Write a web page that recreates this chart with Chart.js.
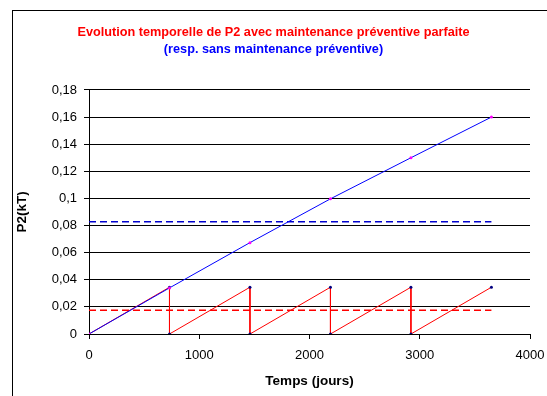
<!DOCTYPE html>
<html>
<head>
<meta charset="utf-8">
<script src="https://cdn.jsdelivr.net/npm/chart.js@4"></script>
<style>
    html, body { margin: 0; padding: 0; background: #fff; overflow: hidden; }
    #wrap { position: relative; width: 547px; height: 396px; }
    #frame { position: absolute; left: 12px; top: 10px; width: 600px; height: 500px; border: 1px solid #000; }
    canvas { position: absolute; left: 0; top: 0; }
</style>
</head>
<body>
<div id="wrap">
    <div id="frame"></div>
    <canvas id="p2Chart" width="547" height="396"></canvas>
</div>
<script>
// P2 sans maintenance préventive (courbe bleue)
const daysNoMaint = [0, 730, 1460, 2190, 2920, 3650];
const p2NoMaint = [0, 0.034, 0.0674, 0.0997, 0.130, 0.160];

// P2 avec maintenance préventive parfaite (dents de scie rouges)
const daysMaint = [0, 730, 730, 1460, 1460, 2190, 2190, 2920, 2920, 3650];
const p2Maint = [0, 0.0345, 0, 0.0345, 0, 0.0345, 0, 0.0345, 0, 0.0345];

// valeurs moyennes (pointillés)
const meanDays = [0, 3650];
const meanNoMaint = [0.0828, 0.0828];
const meanMaint = [0.0176, 0.0176];

const yTickLabels = ['0', '0,02', '0,04', '0,06', '0,08', '0,1', '0,12', '0,14', '0,16', '0,18'];
const xTickLabels = ['0', '1000', '2000', '3000', '4000'];

function toPoints(xs, ys) {
    return xs.map((x, i) => ({ x: x, y: ys[i] }));
}

const font = { family: "'Liberation Sans', Arial, sans-serif", size: 13 };
const axisTitleFont = { family: "'Liberation Sans', Arial, sans-serif", size: 13.5, weight: 'bold' };
const titleFont = { family: "'Liberation Sans', Arial, sans-serif", size: 12.7, weight: 'bold' };

new Chart(document.getElementById('p2Chart').getContext('2d'), {
    type: 'line',
    data: {
        datasets: [{
            label: 'Sans maintenance',
            data: toPoints(daysNoMaint, p2NoMaint),
            borderColor: '#0000FF',
            borderWidth: 1,
            pointRadius: 1.5,
            pointBackgroundColor: '#FF00FF',
            pointBorderWidth: 0,
            tension: 0
        }, {
            label: 'Avec maintenance',
            data: toPoints(daysMaint, p2Maint),
            borderColor: '#FF0000',
            borderWidth: 1,
            pointRadius: 1.5,
            pointBackgroundColor: '#000080',
            pointBorderWidth: 0,
            tension: 0
        }, {
            label: 'Moyenne sans maintenance',
            data: toPoints(meanDays, meanNoMaint),
            borderColor: '#0000CC',
            borderWidth: 1.5,
            borderDash: [7, 4],
            pointRadius: 0
        }, {
            label: 'Moyenne avec maintenance',
            data: toPoints(meanDays, meanMaint),
            borderColor: '#FF0000',
            borderWidth: 1.5,
            borderDash: [7, 4],
            pointRadius: 0
        }]
    },
    options: {
        responsive: false,
        animation: false,
        layout: { padding: { top: 0, left: 0, right: 0, bottom: 0 } },
        plugins: {
            legend: { display: false },
            tooltip: { enabled: false },
            title: {
                display: true,
                text: 'Evolution temporelle de P2 avec maintenance préventive parfaite',
                color: '#FF0000',
                font: titleFont,
                padding: { top: 24.4, bottom: 0 }
            },
            subtitle: {
                display: true,
                text: '(resp. sans maintenance préventive)',
                color: '#0000FF',
                font: titleFont,
                padding: { top: 2.7, bottom: 32.4 }
            }
        },
        scales: {
            x: {
                type: 'linear',
                min: 0,
                max: 4000,
                afterFit: scale => {
                    scale.height = 62;
                    scale.paddingRight = 17;
                },
                ticks: {
                    stepSize: 1000,
                    color: '#000',
                    font: font,
                    padding: 8.7,
                    maxRotation: 0,
                    callback: (v, i) => xTickLabels[i]
                },
                grid: { drawOnChartArea: false, drawTicks: true, tickLength: 5, color: '#000' },
                border: { color: '#000' },
                title: {
                    display: true,
                    text: 'Temps (jours)',
                    color: '#000',
                    font: axisTitleFont,
                    padding: { top: 0, bottom: 6.9 }
                }
            },
            y: {
                min: 0,
                max: 0.18,
                afterFit: scale => { scale.width = 89; },
                ticks: {
                    stepSize: 0.02,
                    color: '#000',
                    font: font,
                    padding: 7,
                    callback: (v, i) => yTickLabels[i]
                },
                grid: { color: '#000', tickLength: 5 },
                border: { color: '#000' },
                title: {
                    display: true,
                    text: 'P2(kT)',
                    color: '#000',
                    font: axisTitleFont,
                    padding: { top: 13.9, bottom: 0 }
                }
            }
        }
    }
});
</script>
</body>
</html>
